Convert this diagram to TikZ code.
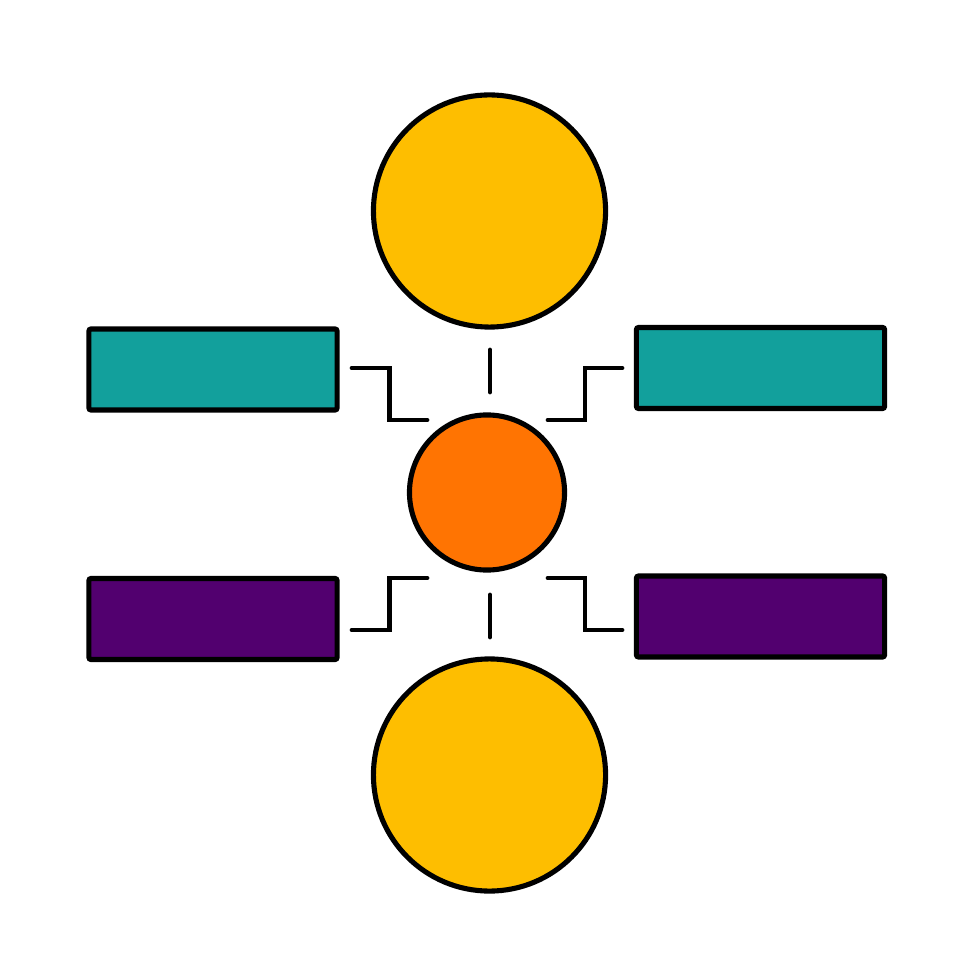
\documentclass[tikz,border=0pt]{standalone}
\usepackage{tikz}
\usetikzlibrary{positioning,calc}

\definecolor{sunyellow}{HTML}{FEBE00}
\definecolor{hotorange}{HTML}{FF7402}
\definecolor{seateal}{HTML}{12A09C}
\definecolor{deeppurple}{HTML}{52006F}

\tikzset{
    bigdot/.style={circle, draw=black, line width=1.45pt, fill=sunyellow,
        inner sep=0pt, minimum size=2.32cm},
    hubdot/.style={circle, draw=black, line width=1.45pt, fill=hotorange,
        inner sep=0pt, minimum size=1.55cm},
    bar/.style={rectangle, draw=black, line width=1.45pt, rounded corners=0.6pt,
        inner sep=0pt, minimum width=2.48cm, minimum height=0.81cm},
    link/.style={draw=black, line width=1.35pt, line cap=round}
}

\begin{document}
\begin{tikzpicture}[x=0.01cm, y=-0.01cm]
    % 画布大小
    \useasboundingbox (0,0) rectangle (980,980);

    % 三个圆
    \node[bigdot] (top) at (489.5,211) {};
    \node[hubdot] (hub) at (487,492.5) {};
    \node[bigdot] (bottom) at (489.5,775) {};

    % 四个长方形
    \node[bar, fill=seateal] (lefttop) at (213,369.5) {};
    \node[bar, fill=seateal] (righttop) at (760.5,368) {};
    \node[bar, fill=deeppurple] (leftbot) at (213,619) {};
    \node[bar, fill=deeppurple] (rightbot) at (760.5,616.5) {};

    % 连线端点
    \coordinate (lt-a) at (352,368);
    \coordinate (lt-b) at (427,420);
    \coordinate (rt-a) at (622,368);
    \coordinate (rt-b) at (548,420);
    \coordinate (lb-a) at (427,578);
    \coordinate (lb-b) at (352,630);
    \coordinate (rb-a) at (548,578);
    \coordinate (rb-b) at (622,630);
    \coordinate (up-a) at (490,350);
    \coordinate (up-b) at (490,392);
    \coordinate (dn-a) at (490,595);
    \coordinate (dn-b) at (490,637);

    % 折线
    \draw[link] (lt-a) -| ($(lt-a)!.5!(lt-b)$) |- (lt-b);
    \draw[link] (rt-a) -| ($(rt-a)!.5!(rt-b)$) |- (rt-b);
    \draw[link] (lb-a) -| ($(lb-a)!.5!(lb-b)$) |- (lb-b);
    \draw[link] (rb-a) -| ($(rb-a)!.5!(rb-b)$) |- (rb-b);

    % 竖线
    \draw[link] (up-a) -- (up-b);
    \draw[link] (dn-a) -- (dn-b);
\end{tikzpicture}
\end{document}
